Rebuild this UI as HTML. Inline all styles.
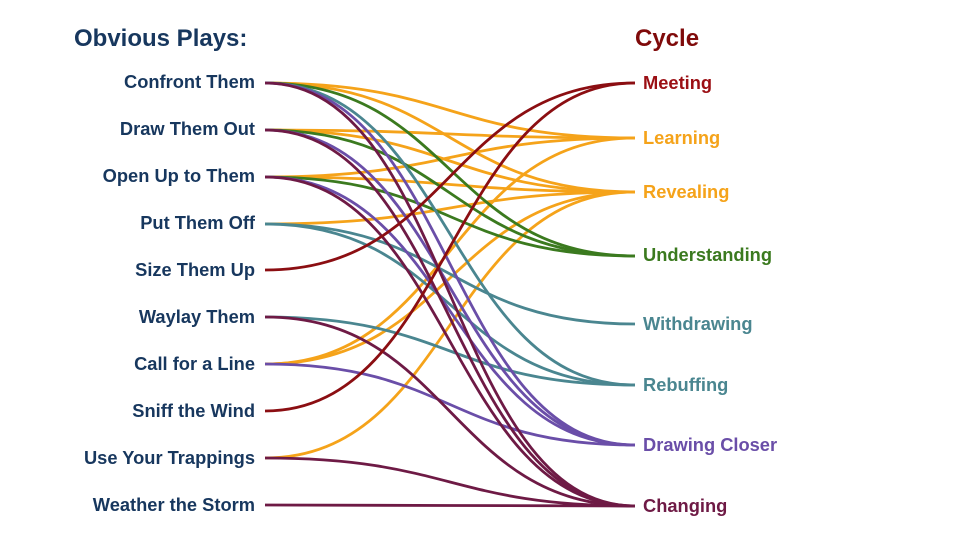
<!DOCTYPE html>
<html><head><style>
body{margin:0;width:960px;height:540px;background:#fff;overflow:hidden}
svg text{font-family:"Liberation Sans",sans-serif;font-weight:bold}
</style></head><body>
<svg width="960" height="540" viewBox="0 0 960 540">
<g fill="none" stroke-width="2.8">
<g stroke="#f5a31a">
<path d="M265 83C450 83 450 138 635 138"/>
<path d="M265 83C450 83 450 192 635 192"/>
<path d="M265 130C450 130 450 138 635 138"/>
<path d="M265 130C450 130 450 192 635 192"/>
<path d="M265 177C450 177 450 138 635 138"/>
<path d="M265 177C450 177 450 192 635 192"/>
<path d="M265 224C450 224 450 192 635 192"/>
<path d="M265 364C450 364 450 138 635 138"/>
<path d="M265 364C450 364 450 192 635 192"/>
<path d="M265 458C450 458 450 192 635 192"/>
</g>
<g stroke="#3b7a1f">
<path d="M265 83C450 83 450 256 635 256"/>
<path d="M265 130C450 130 450 256 635 256"/>
<path d="M265 177C450 177 450 256 635 256"/>
</g>
<g stroke="#4a8690">
<path d="M265 83C450 83 450 385 635 385"/>
<path d="M265 224C450 224 450 324 635 324"/>
<path d="M265 224C450 224 450 385 635 385"/>
<path d="M265 317C450 317 450 385 635 385"/>
</g>
<g stroke="#6a4ea8">
<path d="M265 83C450 83 450 445 635 445"/>
<path d="M265 130C450 130 450 445 635 445"/>
<path d="M265 177C450 177 450 445 635 445"/>
<path d="M265 364C450 364 450 445 635 445"/>
</g>
<g stroke="#6e1a45">
<path d="M265 83C450 83 450 506 635 506"/>
<path d="M265 130C450 130 450 506 635 506"/>
<path d="M265 177C450 177 450 506 635 506"/>
<path d="M265 317C450 317 450 506 635 506"/>
<path d="M265 458C450 458 450 506 635 506"/>
<path d="M265 505C450 505 450 506 635 506"/>
</g>
<g stroke="#8b0e12">
<path d="M265 270C450 270 450 83 635 83"/>
<path d="M265 411C450 411 450 83 635 83"/>
</g>
</g>
<text x="74" y="46" font-size="24" fill="#17375e">Obvious Plays:</text>
<text x="635" y="46" font-size="24" fill="#7f0a0a">Cycle</text>
<g font-size="18.3" fill="#17375e" text-anchor="end">
<text x="255" y="88">Confront Them</text>
<text x="255" y="135">Draw Them Out</text>
<text x="255" y="182">Open Up to Them</text>
<text x="255" y="229">Put Them Off</text>
<text x="255" y="276">Size Them Up</text>
<text x="255" y="323">Waylay Them</text>
<text x="255" y="370">Call for a Line</text>
<text x="255" y="417">Sniff the Wind</text>
<text x="255" y="464">Use Your Trappings</text>
<text x="255" y="511">Weather the Storm</text>
</g>
<g font-size="18.3">
<text x="643" y="89" fill="#9b0f14">Meeting</text>
<text x="643" y="144" fill="#f5a31a">Learning</text>
<text x="643" y="198" fill="#f5a31a">Revealing</text>
<text x="643" y="261" fill="#3b7a1f">Understanding</text>
<text x="643" y="330" fill="#4a8690">Withdrawing</text>
<text x="643" y="391" fill="#4a8690">Rebuffing</text>
<text x="643" y="451" fill="#6a4ea8">Drawing Closer</text>
<text x="643" y="512" fill="#6e1a45">Changing</text>
</g>
</svg>
</body></html>
